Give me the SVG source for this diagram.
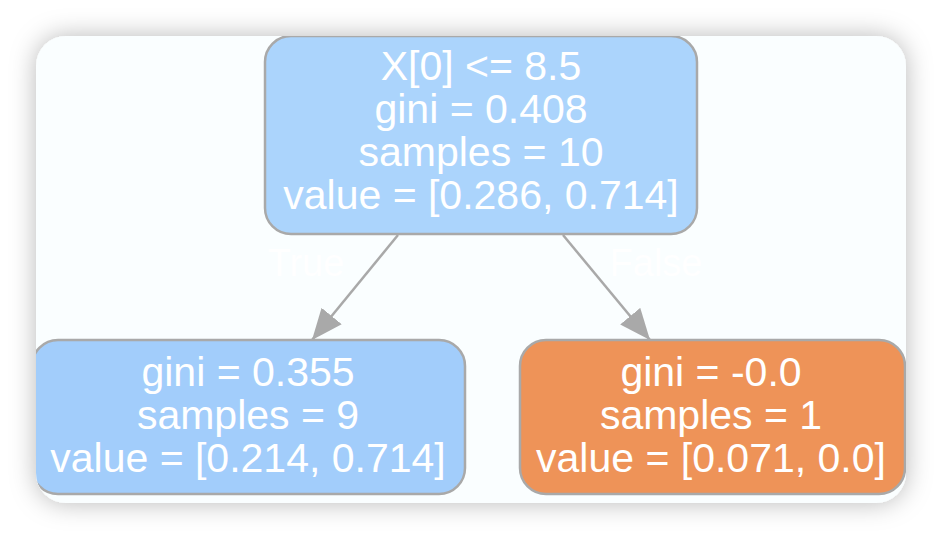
<svg xmlns="http://www.w3.org/2000/svg" width="942" height="540" viewBox="0 0 942 540">
  <style>
    .node rect { stroke: #a9a9a9; stroke-width: 2.5; }
    .t { font-family: "Liberation Sans", Arial, Helvetica, sans-serif; font-size: 41px; fill: #ffffff; text-anchor: middle; }
    .lbl { font-family: "Liberation Sans", Arial, Helvetica, sans-serif; font-size: 38px; fill: #ffffff; text-anchor: middle; }
    .edge { stroke: #a9a9a9; stroke-width: 2.5; fill: none; marker-end: url(#arrow); }
  </style>
  <defs>
    <filter id="shadow" x="-20%" y="-20%" width="140%" height="140%">
      <feDropShadow dx="0" dy="0" stdDeviation="13" flood-color="#000000" flood-opacity="0.28"/>
    </filter>
    <clipPath id="cardClip">
      <rect x="36" y="36" width="870" height="467" rx="30" ry="30"/>
    </clipPath>
    <marker id="arrow" markerUnits="userSpaceOnUse" markerWidth="32" markerHeight="28" refX="31" refY="13" orient="auto" viewBox="0 0 32 26">
      <path d="M0,0 L31,13 L0,26 Z" fill="#a9a9a9"/>
    </marker>
  </defs>

  <rect x="0" y="0" width="942" height="540" fill="#ffffff"/>
  <rect id="card" x="36" y="36" width="870" height="467" rx="30" ry="30" fill="#fafeff" filter="url(#shadow)"/>

  <g clip-path="url(#cardClip)">
    <g id="connectors">
      <line class="edge" x1="398" y1="235" x2="312" y2="340"/>
      <line class="edge" x1="563" y1="235" x2="650" y2="340"/>
      <text class="lbl" x="306" y="276">True</text>
      <text class="lbl" x="656" y="276">False</text>
    </g>

    <g id="node0" class="node">
      <rect x="265" y="36" width="432" height="198" rx="26" ry="26" fill="#abd4fc"/>
      <text class="t" x="481" y="80">X[0] &lt;= 8.5</text>
      <text class="t" x="481" y="123">gini = 0.408</text>
      <text class="t" x="481" y="166">samples = 10</text>
      <text class="t" x="481" y="209">value = [0.286, 0.714]</text>
    </g>

    <g id="node1" class="node">
      <rect x="32" y="340" width="433" height="154" rx="26" ry="26" fill="#a2cdfb"/>
      <text class="t" x="248" y="386">gini = 0.355</text>
      <text class="t" x="248" y="429">samples = 9</text>
      <text class="t" x="248" y="472">value = [0.214, 0.714]</text>
    </g>

    <g id="node2" class="node">
      <rect x="520" y="340" width="385" height="154" rx="26" ry="26" fill="#ee9358"/>
      <text class="t" x="711" y="386">gini = -0.0</text>
      <text class="t" x="711" y="429">samples = 1</text>
      <text class="t" x="711" y="472">value = [0.071, 0.0]</text>
    </g>
  </g>
</svg>
